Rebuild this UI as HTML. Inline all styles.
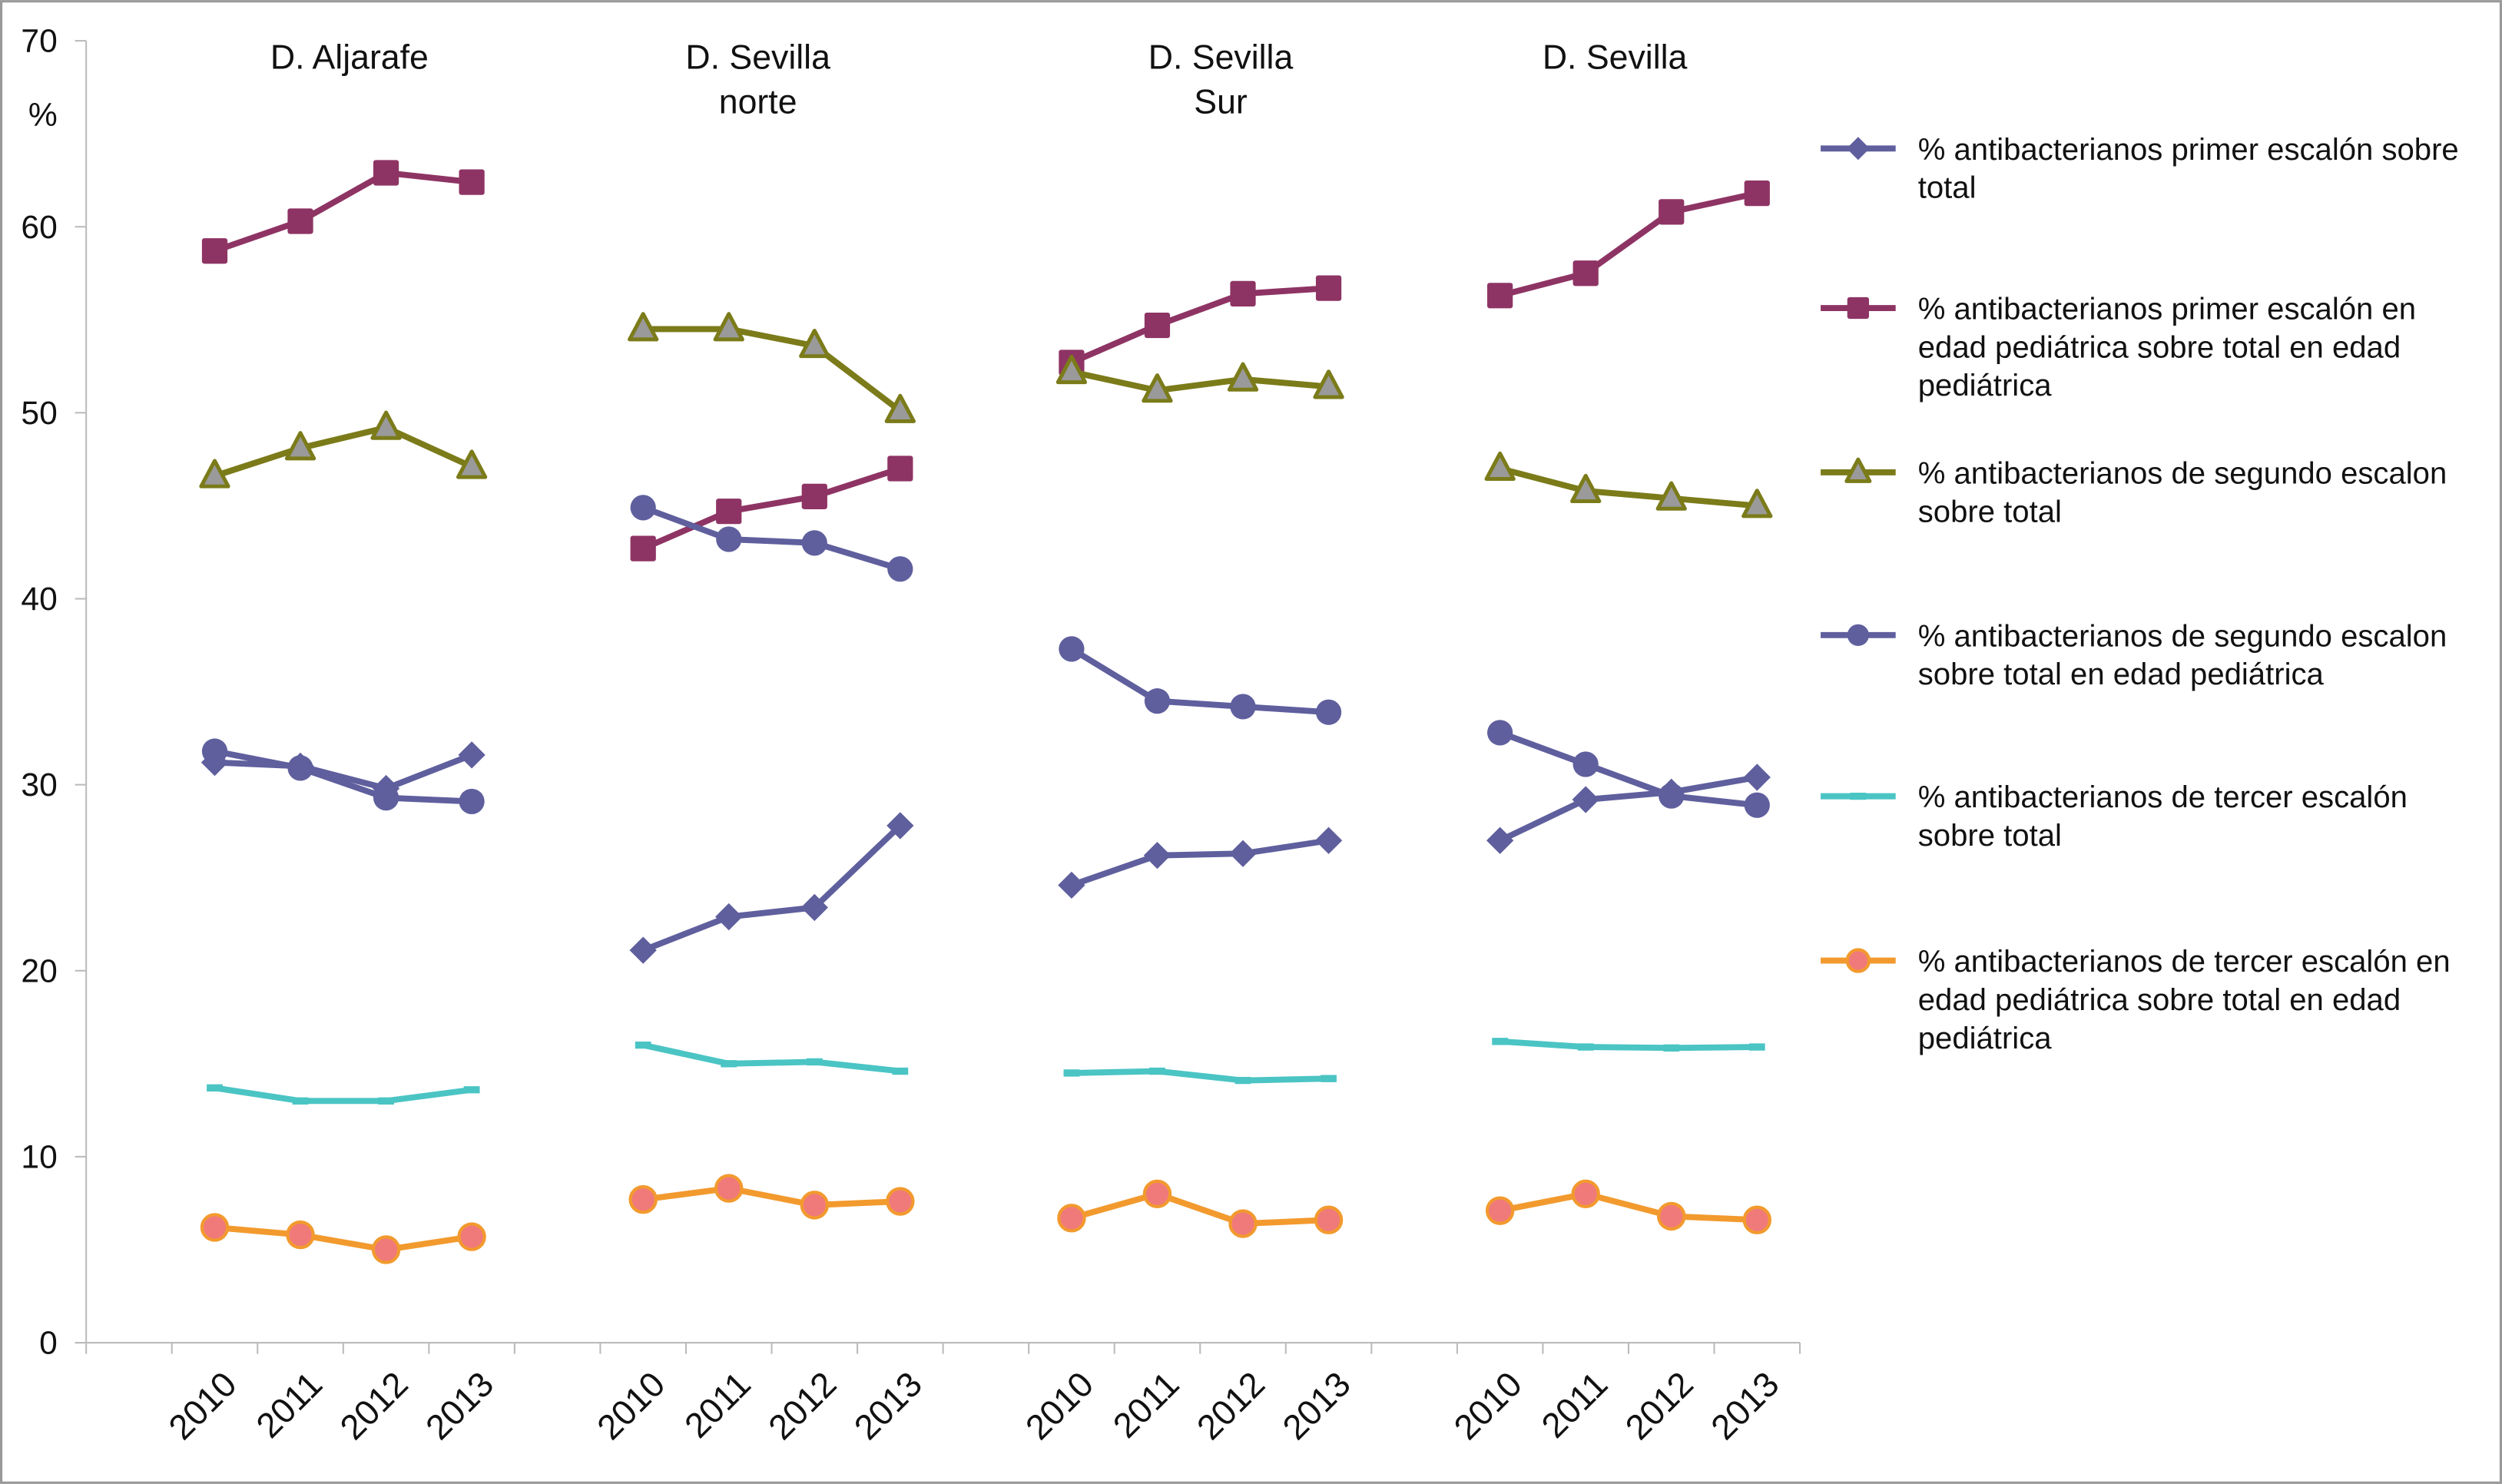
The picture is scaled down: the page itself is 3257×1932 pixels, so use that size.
<!DOCTYPE html>
<html><head><meta charset="utf-8"><style>
html,body{margin:0;padding:0;background:#fff}
svg{display:block;font-family:"Liberation Sans",sans-serif}
</style></head><body>
<svg id="chart" width="3257" height="1932" viewBox="0 0 1568 930" xmlns="http://www.w3.org/2000/svg">
<rect x="0.75" y="0.75" width="1566.5" height="928.5" fill="#fff" stroke="#999" stroke-width="1.5"/>
<g id="axes"></g>
<g id="series"></g>
<g id="legend"></g>
</svg>
<script>
const groups = ["D. Aljarafe", "D. Sevilla norte", "D. Sevilla Sur", "D. Sevilla"];
const years = ["2010", "2011", "2012", "2013"];
const yTicks = [0, 10, 20, 30, 40, 50, 60, 70];
const seriesNames = [
  "% antibacterianos primer escalón sobre total",
  "% antibacterianos primer escalón en edad pediátrica sobre total en edad pediátrica",
  "% antibacterianos de segundo escalon sobre total",
  "% antibacterianos de segundo escalon sobre total en edad pediátrica",
  "% antibacterianos de tercer escalón sobre total",
  "% antibacterianos de tercer escalón en edad pediátrica sobre total en edad pediátrica"
];
const primerTotal = [[31.2,31.0,29.8,31.6],[21.1,22.9,23.4,27.8],[24.6,26.2,26.3,27.0],[27.0,29.2,29.6,30.4]];
const primerPed = [[58.7,60.3,62.9,62.4],[42.7,44.7,45.5,47.0],[52.7,54.7,56.4,56.7],[56.3,57.5,60.8,61.8]];
const segundoTotal = [[46.6,48.1,49.2,47.1],[54.5,54.5,53.6,50.1],[52.2,51.2,51.8,51.4],[47.0,45.8,45.4,45.0]];
const segundoPed = [[31.8,30.9,29.3,29.1],[44.9,43.2,43.0,41.6],[37.3,34.5,34.2,33.9],[32.8,31.1,29.4,28.9]];
const tercerTotal = [[13.7,13.0,13.0,13.6],[16.0,15.0,15.1,14.6],[14.5,14.6,14.1,14.2],[16.2,15.9,15.85,15.9]];
const tercerPed = [[6.2,5.8,5.0,5.7],[7.7,8.3,7.4,7.6],[6.7,8.0,6.4,6.6],[7.1,8.0,6.8,6.6]];

const NS = "http://www.w3.org/2000/svg";
const X0 = 54, X1 = 1128, NSLOT = 20, Y0 = 841.5, Y70 = 25.5;
const slotW = (X1 - X0) / NSLOT;
const yScale = v => Y0 - (v / 70) * (Y0 - Y70);
const xScale = (g, i) => X0 + (1 + g * 5 + i + 0.5) * slotW;
function mk(tag, attrs, parent) {
  const e = document.createElementNS(NS, tag);
  for (const k in attrs) e.setAttribute(k, attrs[k]);
  parent.appendChild(e);
  return e;
}
const axes = document.getElementById('axes');
const sg = document.getElementById('series');
const lg = document.getElementById('legend');

const ya = mk('line', {x1: X0, y1: Y70, x2: X0, y2: Y0, stroke: '#bbb', 'stroke-width': 1}, axes);


const xa = mk('line', {x1: X0 - 7, y1: Y0, x2: X1, y2: Y0, stroke: '#bbb', 'stroke-width': 1}, axes);


yTicks.forEach(t => {
  const y = yScale(t);
  mk('line', {x1: X0 - 7, y1: y, x2: X0, y2: y, stroke: '#bbb', 'stroke-width': 1}, axes);
  const tx = mk('text', {x: 36, y: y + 7, 'text-anchor': 'end', 'font-size': 20.5, fill: '#111'}, axes);
  tx.textContent = t;
  
  
});
const pc = mk('text', {x: 36, y: 79, 'text-anchor': 'end', 'font-size': 20.5, fill: '#111'}, axes);
pc.textContent = '%';


for (let k = 0; k <= NSLOT; k++) {
  const x = X0 + k * slotW;
  mk('line', {x1: x, y1: Y0, x2: x, y2: Y0 + 7, stroke: '#bbb', 'stroke-width': 1}, axes);
}
const titleLines = [["D. Aljarafe"], ["D. Sevilla", "norte"], ["D. Sevilla", "Sur"], ["D. Sevilla"]];
const titleCx = [219, 475, 765, 1012];
groups.forEach((g, gi) => {
  titleLines[gi].forEach((ln, li) => {
    const t = mk('text', {x: titleCx[gi], y: 43 + li * 28, 'text-anchor': 'middle', 'font-size': 21.5, fill: '#111'}, axes);
    t.textContent = ln;
    
    
  });
  years.forEach((yr, i) => {
    const x = xScale(gi, i) + 15, y = 869;
    const t = mk('text', {x: x, y: y, 'text-anchor': 'end', 'font-size': 22, fill: '#111', transform: `rotate(-45 ${x} ${y})`}, axes);
    t.textContent = yr;
    
    
  });
});

const styles = [
  {data: primerTotal, color: '#5F5F9E', marker: 'diamond', fill: '#5F5F9E'},
  {data: primerPed, color: '#8E3464', marker: 'square', fill: '#8E3464'},
  {data: segundoTotal, color: '#7B7B1A', marker: 'triangle', fill: '#9A9A9A'},
  {data: segundoPed, color: '#5F5F9E', marker: 'circle', fill: '#5F5F9E'},
  {data: tercerTotal, color: '#4BC4C4', marker: 'dash', fill: '#4BC4C4'},
  {data: tercerPed, color: '#F29A2E', marker: 'circle', fill: '#F07A7A'}
];
function marker(type, x, y, st, parent, scale) {
  const s = scale || 1;
  let e;
  if (type === 'square') e = mk('rect', {x: x - 8*s, y: y - 8*s, width: 16*s, height: 16*s, rx: 1.5, fill: st.fill}, parent);
  else if (type === 'diamond') e = mk('polygon', {points: `${x},${y-8.5*s} ${x+8.5*s},${y} ${x},${y+8.5*s} ${x-8.5*s},${y}`, fill: st.fill}, parent);
  else if (type === 'triangle') e = mk('polygon', {points: `${x},${y-9.5*s} ${x+8.5*s},${y+6.5*s} ${x-8.5*s},${y+6.5*s}`, fill: st.fill, stroke: st.color, 'stroke-width': 2.4, 'stroke-linejoin': 'round'}, parent);
  else if (type === 'circle') e = mk('circle', {cx: x, cy: y, r: 8*s, fill: st.fill, stroke: st.color, 'stroke-width': st.fill === st.color ? 0 : 2}, parent);
  else e = mk('line', {x1: x - 5, y1: y, x2: x + 5, y2: y, stroke: st.color, 'stroke-width': 4.5}, parent);
  return e;
}
styles.forEach((st, si) => {
  st.data.forEach((vals, gi) => {
    const pts = vals.map((v, i) => `${xScale(gi, i)},${yScale(v)}`).join(' ');
    const pl = mk('polyline', {points: pts, fill: 'none', stroke: st.color, 'stroke-width': 3.8, 'stroke-linejoin': 'round'}, sg);
    
    
    vals.forEach((v, i) => {
      const m = marker(st.marker, xScale(gi, i), yScale(v), st, sg);
      
      
    });
  });
});

const legendY = [93, 193, 296, 398, 499, 602];
const legendLines = [
  ["% antibacterianos primer escalón sobre", "total"],
  ["% antibacterianos primer escalón en", "edad pediátrica sobre total en edad", "pediátrica"],
  ["% antibacterianos de segundo escalon", "sobre total"],
  ["% antibacterianos de segundo escalon", "sobre total en edad pediátrica"],
  ["% antibacterianos de tercer escalón", "sobre total"],
  ["% antibacterianos de tercer escalón en", "edad pediátrica sobre total en edad", "pediátrica"]
];
styles.forEach((st, si) => {
  const g = mk('g', {}, lg);
  
  
  const y = legendY[si];
  mk('line', {x1: 1141, y1: y, x2: 1188, y2: y, stroke: st.color, 'stroke-width': 3.8}, g);
  if (st.marker !== 'dash') marker(st.marker, 1164.5, y, st, g, 0.85);
  else marker('dash', 1164.5, y, st, g);
  legendLines[si].forEach((ln, li) => {
    const t = mk('text', {x: 1202, y: y + 7 + li * 24, 'font-size': 19.3, fill: '#111'}, g);
    t.textContent = ln;
  });
});
</script>
</body></html>
